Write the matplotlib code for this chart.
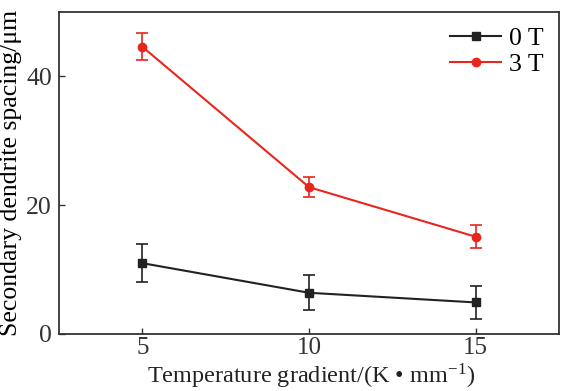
import matplotlib
matplotlib.use("Agg")
import matplotlib.pyplot as plt
from matplotlib.lines import Line2D

x = [5, 10, 15]
y0 = [11.0, 6.4, 4.9]
e0 = [3.0, 2.7, 2.5]
y3 = [44.6, 22.8, 15.1]
e3 = [2.1, 1.6, 1.8]
labels = ["0 T", "3 T"]

plt.rcParams['font.family'] = ['Liberation Serif', 'DejaVu Serif']
plt.rcParams['mathtext.fontset'] = 'stix'

c0 = '#222222'
c3 = '#e8261e'

fig = plt.figure(figsize=(5.64, 3.91), dpi=100)
ax = fig.add_axes([0.1046, 0.1458, 0.8866, 0.8235])

ax.errorbar(x, y0, yerr=e0, color=c0, marker='s', markersize=6,
            lw=1.5, capsize=4, elinewidth=1.2, capthick=1.2)
ax.errorbar(x, y3, yerr=e3, color=c3, marker='o', markersize=6,
            lw=1.5, capsize=4, elinewidth=1.2, capthick=1.2)

ax.set_xlim(2.5, 17.5)
ax.set_ylim(0, 50)
ax.set_xticks([5, 10, 15])
ax.set_yticks([0, 20, 40])
ax.tick_params(direction='in', labelsize=18.5, length=4, width=1, colors='#333333',
               top=False, right=False, pad=5)
ax.tick_params(axis='x', labelsize=18, pad=2.5)
for s in ax.spines.values():
    s.set_linewidth(1.3)
    s.set_color('#333333')

fig.text(0.552, 0.02, 'Temperature gradient/(K • mm$^{\\mathregular{-1}}$)',
         fontsize=17.5, ha='center', va='baseline', color='#222222')
ax.set_ylabel('Secondary dendrite spacing/μm', fontsize=18.5, labelpad=3)

handles = [Line2D([], [], color=c0, marker='s', markersize=6, lw=1.5),
           Line2D([], [], color=c3, marker='o', markersize=6, lw=1.5)]
ax.legend(handles, labels, loc='upper right', frameon=False, fontsize=18.5,
          handlelength=2.0, handletextpad=0.3, labelspacing=0.1,
          borderaxespad=0.2)

fig.savefig('out.png', dpi=100)
